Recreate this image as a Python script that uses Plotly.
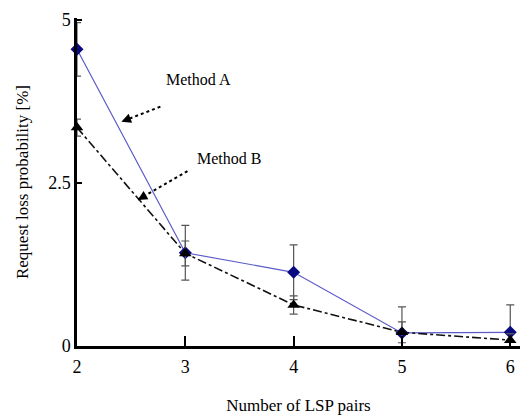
import plotly.graph_objects as go

lsp_pairs = [2, 3, 4, 5, 6]
method_a = [4.55, 1.43, 1.13, 0.20, 0.21]
method_a_err = [0.41, 0.42, 0.42, 0.40, 0.42]
method_b = [3.35, 1.42, 0.63, 0.21, 0.09]
method_b_err = [0.13, 0.19, 0.14, 0.16, 0.10]

FONT = "'Liberation Serif', 'Times New Roman', 'DejaVu Serif', serif"

fig = go.Figure()
fig.add_trace(go.Scatter(
    x=lsp_pairs, y=method_a, mode="lines+markers", name="Method A",
    line=dict(color="#5b5bc8", width=1.2),
    marker=dict(symbol="diamond", size=10, color="#0a0a80"),
    error_y=dict(type="data", array=method_a_err, color="#555555", thickness=1.2, width=4),
    cliponaxis=False,
))
fig.add_trace(go.Scatter(
    x=lsp_pairs, y=method_b, mode="lines+markers", name="Method B",
    line=dict(color="#111111", width=1.6, dash="dashdot"),
    marker=dict(symbol="triangle-up", size=11, color="#000000"),
    error_y=dict(type="data", array=method_b_err, color="#555555", thickness=1.2, width=4),
    cliponaxis=False,
))

# dotted arrows with text labels
arrows = [
    # text, text pos, tail, head
    ("Method A", (3.12, 4.08), (2.77, 3.67), (2.41, 3.44)),
    ("Method B", (3.40, 2.88), (3.02, 2.68), (2.56, 2.24)),
]
for txt, tpos, tail, head in arrows:
    fig.add_annotation(x=tpos[0], y=tpos[1], text=txt, showarrow=False,
                       font=dict(family=FONT, size=16, color="#000000"))
    fig.add_shape(type="line", x0=tail[0], y0=tail[1], x1=head[0], y1=head[1],
                  line=dict(color="#000000", width=2, dash="dot"))
    dx = (tail[0] - head[0]) * 108.25
    dy = -(tail[1] - head[1]) * 65.2
    n = (dx * dx + dy * dy) ** 0.5
    fig.add_annotation(x=head[0], y=head[1], ax=dx / n * 9, ay=dy / n * 9,
                       text="", showarrow=True, arrowhead=2, arrowsize=1.2,
                       arrowwidth=1.6, arrowcolor="#000000")

fig.update_layout(
    width=522, height=418,
    margin=dict(l=77, r=2, t=18, b=72),
    paper_bgcolor="white", plot_bgcolor="white",
    showlegend=False,
    font=dict(family=FONT, size=16, color="#000000"),
    xaxis=dict(
        range=[2, 6.09], tickvals=[2, 3, 4, 5, 6], ticktext=["2", "3", "4", "5", "6"],
        showline=True, linecolor="#000000", linewidth=2.5, mirror=False,
        ticks="inside", ticklen=10, tickwidth=2, tickcolor="#000000",
        showgrid=False, zeroline=False, automargin=False, ticklabelstandoff=3,
        title=dict(text="Number of LSP pairs", font=dict(family=FONT, size=17), standoff=23),
        tickfont=dict(family=FONT, size=18),
    ),
    yaxis=dict(
        range=[0, 5.03], tickvals=[0, 2.5, 5], ticktext=["0", "2.5", "5"],
        showline=True, linecolor="#000000", linewidth=2.5,
        ticks="inside", ticklen=5, tickwidth=1.5, tickcolor="#000000",
        showgrid=False, zeroline=False, automargin=False,
        title=dict(text="Request loss probability [%]", font=dict(family=FONT, size=17), standoff=16),
        tickfont=dict(family=FONT, size=18),
    ),
)

fig.write_html("out.html", config={"displayModeBar": False},
               post_script="document.body.style.margin='0';document.body.style.padding='0';")
